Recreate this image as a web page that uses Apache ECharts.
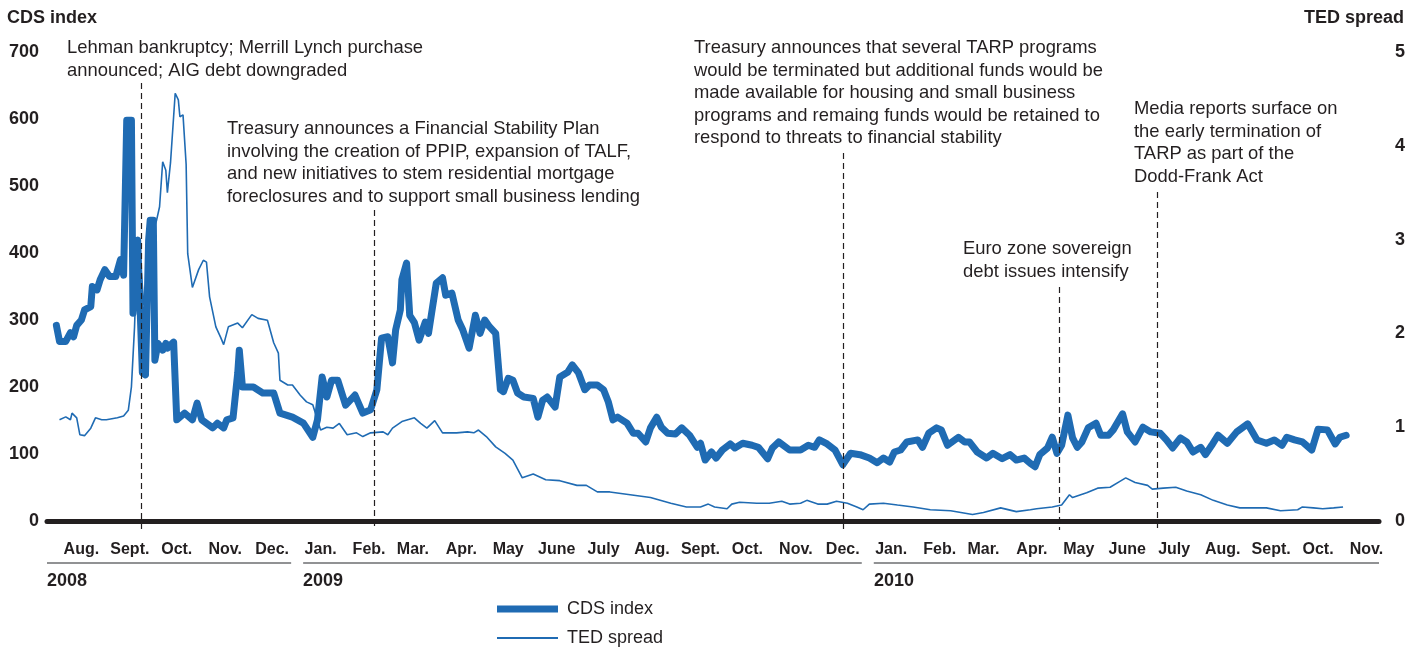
<!DOCTYPE html>
<html>
<head>
<meta charset="utf-8">
<title>CDS index and TED spread</title>
<script src="https://cdn.jsdelivr.net/npm/echarts@6.0.0/dist/echarts.min.js"></script>
<style>
    html, body { margin: 0; padding: 0; background: #fff; }
    #chart { width: 1421px; height: 649px; }
</style>
</head>
<body>
<div id="chart"></div>
<script>
// day counts are measured from 25 July 2008 (left edge of the axis)
const startDate = Date.UTC(2008, 6, 25);
const endDay = 852;

const cdsDays = [6, 8, 12, 15, 17, 19, 22, 24, 28, 29, 32, 34, 37, 40, 44, 47, 49, 51, 54, 55, 58, 61, 63, 65, 66, 68, 69, 71, 74, 76, 77, 81, 83, 88, 93, 96, 99, 106, 109, 113, 115, 119, 122, 123, 125, 132, 138, 145, 149, 157, 164, 170, 173, 176, 179, 182, 186, 191, 197, 202, 207, 211, 214, 218, 221, 223, 226, 227, 230, 232, 235, 238, 242, 244, 246, 249, 253, 255, 259, 263, 266, 270, 274, 277, 280, 283, 287, 290, 292, 295, 298, 301, 305, 311, 314, 317, 320, 325, 328, 333, 336, 340, 344, 347, 352, 356, 359, 362, 365, 371, 375, 378, 383, 386, 390, 393, 397, 402, 406, 411, 416, 418, 421, 425, 428, 432, 437, 440, 445, 451, 455, 461, 464, 468, 475, 482, 487, 491, 494, 499, 504, 509, 514, 520, 526, 531, 535, 539, 542, 546, 550, 557, 560, 564, 569, 572, 576, 583, 587, 590, 595, 601, 605, 611, 616, 620, 625, 629, 632, 635, 640, 643, 646, 649, 653, 656, 659, 662, 666, 671, 674, 679, 682, 688, 691, 696, 701, 706, 712, 716, 720, 725, 729, 733, 738, 741, 745, 749, 755, 761, 768, 774, 780, 785, 790, 793, 798, 803, 809, 813, 819, 824, 827, 831];
const cdsValues = [292, 268, 268, 281, 275, 292, 300, 315, 320, 350, 345, 360, 375, 365, 365, 390, 367, 598, 598, 310, 419, 221, 218, 419, 449, 449, 240, 265, 255, 265, 258, 267, 151, 161, 151, 176, 151, 139, 146, 139, 151, 154, 221, 255, 200, 200, 191, 191, 161, 155, 146, 125, 151, 215, 185, 210, 210, 173, 188, 161, 166, 196, 273, 275, 236, 285, 315, 360, 385, 307, 296, 270, 297, 280, 310, 355, 363, 337, 340, 300, 285, 258, 307, 280, 300, 290, 280, 196, 193, 213, 210, 191, 185, 183, 155, 180, 185, 170, 215, 222, 233, 221, 196, 203, 203, 196, 178, 151, 155, 146, 131, 131, 118, 139, 155, 140, 131, 130, 139, 128, 110, 116, 91, 103, 94, 106, 115, 109, 116, 113, 110, 93, 109, 118, 106, 106, 113, 110, 121, 115, 106, 84, 101, 99, 94, 87, 94, 88, 103, 106, 118, 121, 110, 131, 139, 136, 113, 125, 118, 118, 103, 94, 101, 93, 99, 91, 94, 86, 81, 99, 109, 125, 101, 113, 158, 124, 110, 118, 139, 146, 128, 128, 136, 160, 133, 118, 140, 133, 131, 121, 109, 124, 118, 103, 110, 99, 113, 128, 116, 133, 145, 121, 116, 121, 113, 125, 121, 118, 106, 137, 136, 115, 125, 128];

const tedDays = [8, 12, 15, 16, 19, 21, 24, 28, 31, 35, 38, 45, 49, 52, 54, 56, 58, 60, 62, 65, 66, 70, 72, 74, 76, 77, 79, 82, 84, 85, 87, 89, 90, 93, 97, 100, 102, 104, 108, 111, 113, 116, 122, 125, 131, 135, 141, 145, 148, 149, 154, 157, 162, 166, 170, 175, 179, 183, 187, 192, 198, 202, 207, 215, 218, 221, 227, 235, 239, 243, 248, 253, 262, 269, 273, 276, 281, 287, 293, 298, 304, 311, 319, 328, 339, 345, 352, 360, 373, 386, 399, 409, 418, 423, 427, 435, 438, 443, 454, 462, 470, 475, 482, 486, 493, 499, 505, 512, 518, 522, 526, 535, 544, 554, 565, 578, 592, 599, 610, 620, 629, 633, 643, 649, 654, 656, 665, 672, 680, 686, 690, 696, 704, 707, 714, 722, 729, 738, 746, 755, 763, 771, 780, 789, 800, 803, 810, 816, 823, 829];
const tedValues = [1.08, 1.11, 1.08, 1.15, 1.10, 0.92, 0.91, 0.99, 1.10, 1.08, 1.08, 1.10, 1.12, 1.18, 1.43, 2.07, 3.03, 2.71, 2.30, 2.60, 3.00, 3.20, 3.35, 3.83, 3.74, 3.50, 3.82, 4.56, 4.49, 4.31, 4.33, 3.80, 2.85, 2.49, 2.68, 2.78, 2.76, 2.39, 2.07, 1.96, 1.88, 2.07, 2.11, 2.06, 2.20, 2.16, 2.14, 1.90, 1.79, 1.50, 1.45, 1.45, 1.34, 1.27, 1.24, 0.97, 1.00, 0.99, 1.04, 0.92, 0.94, 0.90, 0.94, 0.95, 0.92, 0.99, 1.06, 1.10, 1.04, 0.99, 1.07, 0.94, 0.94, 0.95, 0.94, 0.97, 0.90, 0.79, 0.72, 0.65, 0.46, 0.50, 0.44, 0.43, 0.38, 0.38, 0.31, 0.31, 0.28, 0.25, 0.19, 0.15, 0.15, 0.18, 0.15, 0.13, 0.18, 0.20, 0.19, 0.19, 0.21, 0.18, 0.19, 0.22, 0.18, 0.18, 0.21, 0.19, 0.15, 0.12, 0.18, 0.19, 0.17, 0.15, 0.12, 0.11, 0.07, 0.09, 0.14, 0.10, 0.12, 0.13, 0.15, 0.17, 0.28, 0.25, 0.30, 0.35, 0.36, 0.42, 0.46, 0.41, 0.38, 0.34, 0.35, 0.36, 0.32, 0.28, 0.22, 0.17, 0.14, 0.14, 0.14, 0.11, 0.12, 0.15, 0.14, 0.13, 0.14, 0.15];

const cdsTicks = [0, 100, 200, 300, 400, 500, 600, 700];
const tedTicks = [0, 1, 2, 3, 4, 5];
const monthNames = ['Jan.', 'Feb.', 'Mar.', 'Apr.', 'May', 'June', 'July', 'Aug.', 'Sept.', 'Oct.', 'Nov.', 'Dec.'];
const years = [2008, 2009, 2010];

// event lines (day counts) and their notes
const eventDays = [60, 209, 509, 647, 710];
const eventNotes = [
    'Lehman bankruptcy; Merrill Lynch purchase\nannounced; AIG debt downgraded',
    'Treasury announces a Financial Stability Plan\ninvolving the creation of PPIP, expansion of TALF,\nand new initiatives to stem residential mortgage\nforeclosures and to support small business lending',
    'Treasury announces that several TARP programs\nwould be terminated but additional funds would be\nmade available for housing and small business\nprograms and remaing funds would be retained to\nrespond to threats to financial stability',
    'Euro zone sovereign\ndebt issues intensify',
    'Media reports surface on\nthe early termination of\nTARP as part of the\nDodd-Frank Act'
];
// where each note sits and where its dashed line starts (px)
const noteLayout = [
    { left: 67, top: 37, lineTop: 83 },
    { left: 227, top: 118, lineTop: 210 },
    { left: 694, top: 37, lineTop: 153 },
    { left: 963, top: 238, lineTop: 287 },
    { left: 1134, top: 98, lineTop: 192 }
];

const ink = '#231f20';
const blue = '#1f6bb3';
const fontFamily = '"Liberation Sans", Arial, sans-serif';

const toTime = (day) => startDate + day * 86400000;
const cdsData = cdsDays.map((d, i) => [toTime(d), cdsValues[i]]);
const tedData = tedDays.map((d, i) => [toTime(d), tedValues[i]]);

const monthTicks = [];
for (let i = 0; i < 28; i++) {
    monthTicks.push(Date.UTC(2008, 7 + i, 16));
}

const legendText = { fontSize: 18, color: ink, padding: [0, 0, 0, 4] };

const chart = echarts.init(document.getElementById('chart'));

const option = {
    animation: false,
    textStyle: { fontFamily: fontFamily },
    grid: { left: 47, right: 42, top: 52, bottom: 128 },
    legend: [
        {
            left: 497, top: 600, padding: 0,
            icon: 'rect', itemWidth: 61, itemHeight: 7,
            textStyle: legendText,
            data: ['CDS index']
        },
        {
            left: 497, top: 629, padding: 0,
            icon: 'rect', itemWidth: 61, itemHeight: 2,
            textStyle: legendText,
            data: ['TED spread']
        }
    ],
    xAxis: {
        type: 'value',
        min: startDate,
        max: toTime(endDay),
        axisLine: { lineStyle: { color: ink, width: 5 } },
        axisTick: { show: false },
        splitLine: { show: false },
        axisLabel: {
            customValues: monthTicks,
            formatter: (v) => monthNames[new Date(v).getUTCMonth()],
            color: ink,
            fontSize: 16,
            fontWeight: 'bold',
            margin: 21,
            hideOverlap: false
        }
    },
    yAxis: [
        {
            type: 'value',
            min: cdsTicks[0],
            max: cdsTicks[cdsTicks.length - 1],
            interval: 100,
            axisLine: { show: false },
            axisTick: { show: false },
            splitLine: { show: false },
            axisLabel: { color: ink, fontSize: 18, fontWeight: 'bold', margin: 8 }
        },
        {
            type: 'value',
            min: tedTicks[0],
            max: tedTicks[tedTicks.length - 1],
            interval: 1,
            position: 'right',
            axisLine: { show: false },
            axisTick: { show: false },
            splitLine: { show: false },
            axisLabel: { color: ink, fontSize: 18, fontWeight: 'bold', margin: 16 }
        }
    ],
    series: [
        {
            name: 'CDS index',
            type: 'line',
            yAxisIndex: 0,
            symbol: 'none',
            z: 3,
            lineStyle: { color: blue, width: 7, cap: 'round', join: 'round' },
            itemStyle: { color: blue },
            data: cdsData
        },
        {
            name: 'TED spread',
            type: 'line',
            yAxisIndex: 1,
            symbol: 'none',
            z: 2,
            lineStyle: { color: blue, width: 1.6 },
            itemStyle: { color: blue },
            data: tedData
        }
    ]
};

chart.setOption(option);

// annotations, event lines and year bands placed through the axis scale
const xPix = (t) => chart.convertToPixel({ xAxisIndex: 0 }, t);
const graphics = [
    {
        type: 'text', left: 7, top: 9,
        style: { text: 'CDS index', font: 'bold 18px ' + fontFamily, fill: ink }
    },
    {
        type: 'text', right: 17, top: 9,
        style: { text: 'TED spread', font: 'bold 18px ' + fontFamily, fill: ink }
    }
];

eventDays.forEach((d, i) => {
    const x = Math.round(xPix(toTime(d))) + 0.5;
    graphics.push({
        type: 'line',
        shape: { x1: x, y1: noteLayout[i].lineTop, x2: x, y2: 530 },
        style: { stroke: ink, lineWidth: 1.2, lineDash: [6, 4] },
        z: 5
    });
    graphics.push({
        type: 'text',
        left: noteLayout[i].left,
        top: noteLayout[i].top,
        style: { text: eventNotes[i], font: '18.4px ' + fontFamily, lineHeight: 22.5, fill: ink }
    });
});

const axisStart = xPix(startDate);
const axisEnd = xPix(toTime(endDay));
years.forEach((y, i) => {
    const from = i === 0 ? axisStart : xPix(Date.UTC(y, 0, 1)) + 6;
    const to = i === years.length - 1 ? axisEnd : xPix(Date.UTC(y + 1, 0, 1)) - 6;
    graphics.push({
        type: 'line',
        shape: { x1: from, y1: 563, x2: to, y2: 563 },
        style: { stroke: '#6d6e71', lineWidth: 1.5 }
    });
    graphics.push({
        type: 'text',
        left: Math.round(from),
        top: 572,
        style: { text: String(y), font: 'bold 18px ' + fontFamily, fill: ink }
    });
});

chart.setOption({ graphic: graphics });
</script>
</body>
</html>
